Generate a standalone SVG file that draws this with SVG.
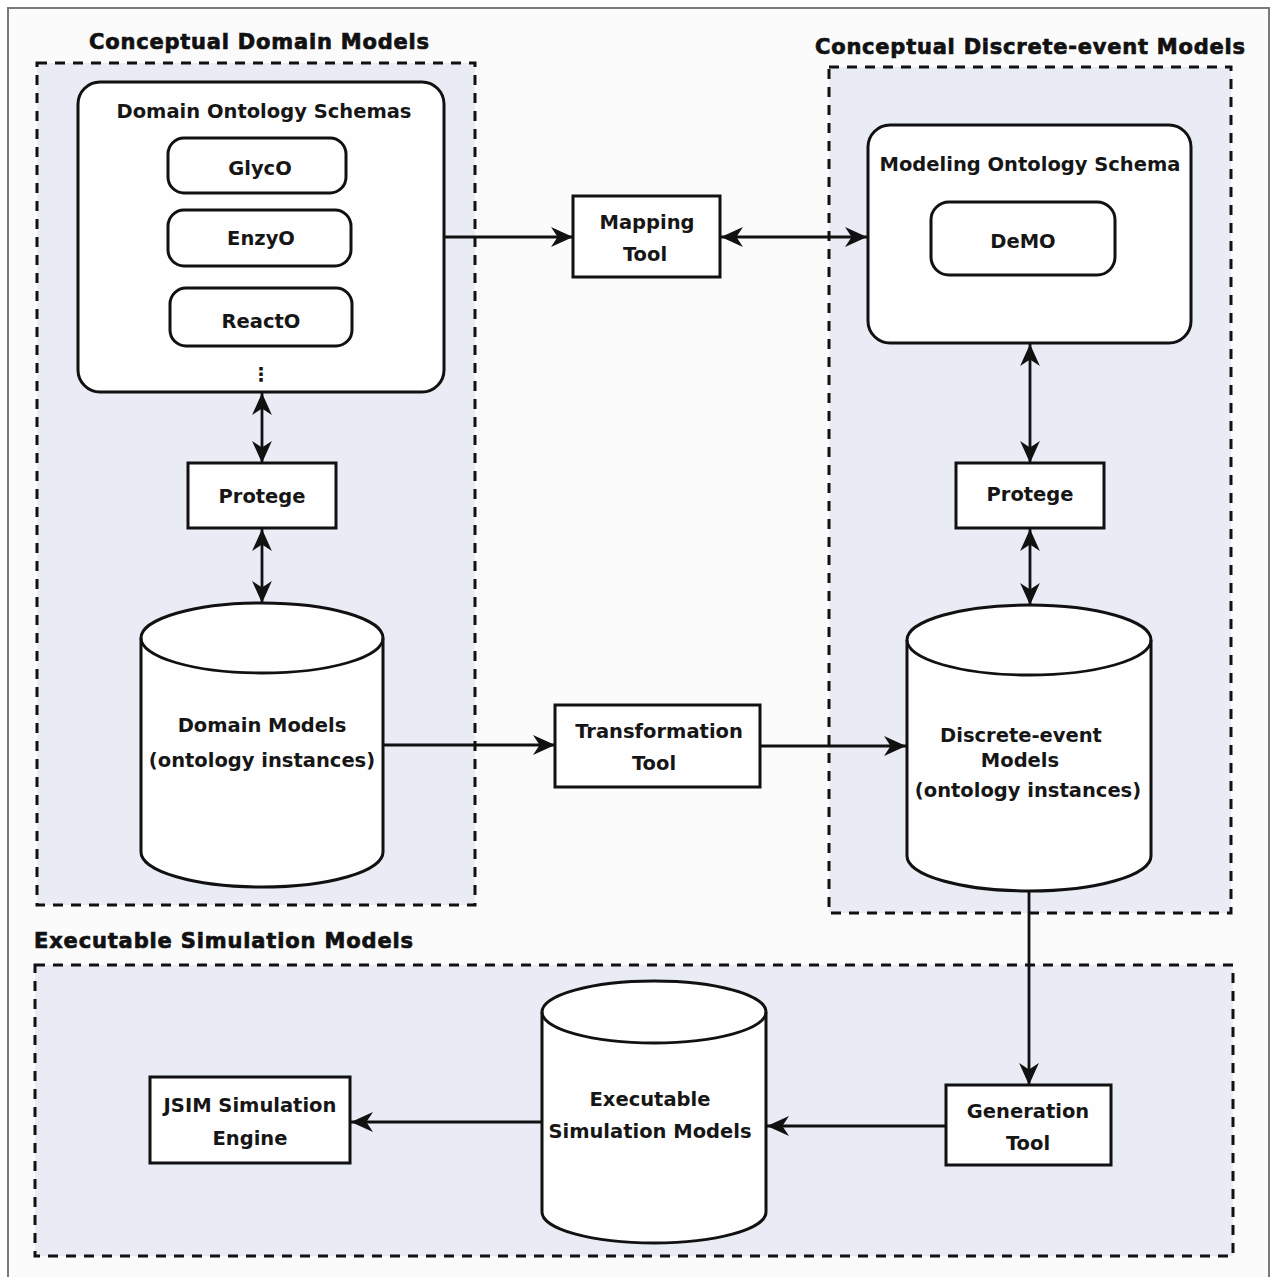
<svg xmlns="http://www.w3.org/2000/svg" width="1275" height="1277" viewBox="0 0 1275 1277">
  <defs>
    <style>
      .frame { fill: #fbfbfc; stroke: #7a7a7a; stroke-width: 2; }
      .group { fill: #e9ebf5; stroke: #111; stroke-width: 3; stroke-dasharray: 10 8; }
      .box { fill: #fefefe; stroke: #111; stroke-width: 3; }
      .edge { fill: none; stroke: #111; stroke-width: 2.8; }
      .title { font-family: "DejaVu Sans", Verdana, sans-serif; font-weight: bold; font-size: 21px; fill: #111; stroke: #111; stroke-width: 0.7; }
      .label { font-family: "DejaVu Sans", Verdana, sans-serif; font-weight: bold; font-size: 19.5px; fill: #161616; text-anchor: middle; }
    </style>
    <marker id="arrow" viewBox="0 0 20 20" refX="20" refY="10" markerWidth="22" markerHeight="22" markerUnits="userSpaceOnUse" orient="auto-start-reverse">
      <path d="M0,1 L20,10 L0,19 L6,10 Z" fill="#111"/>
    </marker>
  </defs>

  <!-- page -->
  <rect x="0" y="0" width="1275" height="1277" fill="#ffffff"/>
  <rect class="frame" x="8" y="8" width="1261" height="1290"/>

  <!-- group containers -->
  <g id="group-domain">
    <rect class="group" x="37" y="63" width="438" height="842"/>
    <text class="title" x="89" y="49" textLength="340">Conceptual Domain Models</text>
  </g>
  <g id="group-discrete">
    <rect class="group" x="829" y="67" width="402" height="846"/>
    <text class="title" x="815" y="54" textLength="430">Conceptual Discrete-event Models</text>
  </g>
  <g id="group-executable">
    <rect class="group" x="35" y="965" width="1198" height="291"/>
    <text class="title" x="34" y="948" textLength="379">Executable Simulation Models</text>
  </g>

  <!-- connectors -->
  <g id="connectors">
    <line class="edge" x1="444" y1="237" x2="573" y2="237" marker-end="url(#arrow)"/>
    <line class="edge" x1="721" y1="237" x2="867" y2="237" marker-start="url(#arrow)" marker-end="url(#arrow)"/>
    <line class="edge" x1="262" y1="393" x2="262" y2="463" marker-start="url(#arrow)" marker-end="url(#arrow)"/>
    <line class="edge" x1="262" y1="529" x2="262" y2="603" marker-start="url(#arrow)" marker-end="url(#arrow)"/>
    <line class="edge" x1="1030" y1="344" x2="1030" y2="463" marker-start="url(#arrow)" marker-end="url(#arrow)"/>
    <line class="edge" x1="1030" y1="529" x2="1030" y2="605" marker-start="url(#arrow)" marker-end="url(#arrow)"/>
    <line class="edge" x1="384" y1="745" x2="555" y2="745" marker-end="url(#arrow)"/>
    <line class="edge" x1="760" y1="746" x2="906" y2="746" marker-end="url(#arrow)"/>
    <line class="edge" x1="1029" y1="891" x2="1029" y2="1085" marker-end="url(#arrow)"/>
    <line class="edge" x1="946" y1="1126" x2="767" y2="1126" marker-end="url(#arrow)"/>
    <line class="edge" x1="542" y1="1122" x2="351" y2="1122" marker-end="url(#arrow)"/>
  </g>

  <!-- left column -->
  <g id="domain-ontology-schemas">
    <rect class="box" x="78" y="82" width="366" height="310" rx="22"/>
    <text class="label" x="264" y="118">Domain Ontology Schemas</text>
    <text class="label" x="261" y="381" font-size="32">⋮</text>
  </g>
  <g id="glyco">
    <rect class="box" x="168" y="138" width="178" height="55" rx="16"/>
    <text class="label" x="260" y="175">GlycO</text>
  </g>
  <g id="enzyo">
    <rect class="box" x="168" y="210" width="183" height="56" rx="16"/>
    <text class="label" x="261" y="245">EnzyO</text>
  </g>
  <g id="reacto">
    <rect class="box" x="170" y="288" width="182" height="58" rx="16"/>
    <text class="label" x="261" y="328">ReactO</text>
  </g>
  <g id="protege-left">
    <rect class="box" x="188" y="463" width="148" height="65"/>
    <text class="label" x="262" y="503">Protege</text>
  </g>
  <g id="domain-models">
    <path class="box" d="M141,638 A121,35 0 0 1 383,638 V852 A121,35 0 0 1 141,852 Z"/>
    <path class="edge" d="M141,638 A121,35 0 0 0 383,638" stroke-width="3"/>
    <text class="label" x="262" y="732">Domain Models</text>
    <text class="label" x="262" y="767">(ontology instances)</text>
  </g>

  <!-- middle tools -->
  <g id="mapping-tool">
    <rect class="box" x="573" y="196" width="147" height="81"/>
    <text class="label" x="647" y="229">Mapping</text>
    <text class="label" x="645" y="261">Tool</text>
  </g>
  <g id="transformation-tool">
    <rect class="box" x="555" y="705" width="205" height="82"/>
    <text class="label" x="659" y="738">Transformation</text>
    <text class="label" x="654" y="770">Tool</text>
  </g>

  <!-- right column -->
  <g id="modeling-ontology-schema">
    <rect class="box" x="868" y="125" width="323" height="218" rx="22"/>
    <text class="label" x="1030" y="171">Modeling Ontology Schema</text>
  </g>
  <g id="demo">
    <rect class="box" x="931" y="202" width="184" height="73" rx="18"/>
    <text class="label" x="1023" y="248">DeMO</text>
  </g>
  <g id="protege-right">
    <rect class="box" x="956" y="463" width="148" height="65"/>
    <text class="label" x="1030" y="501">Protege</text>
  </g>
  <g id="discrete-event-models">
    <path class="box" d="M907,640 A122,35 0 0 1 1151,640 V856 A122,35 0 0 1 907,856 Z"/>
    <path class="edge" d="M907,640 A122,35 0 0 0 1151,640" stroke-width="3"/>
    <text class="label" x="1021" y="742">Discrete-event</text>
    <text class="label" x="1020" y="767">Models</text>
    <text class="label" x="1028" y="797">(ontology instances)</text>
  </g>

  <!-- bottom row -->
  <g id="generation-tool">
    <rect class="box" x="946" y="1085" width="165" height="80"/>
    <text class="label" x="1028" y="1118">Generation</text>
    <text class="label" x="1028" y="1150">Tool</text>
  </g>
  <g id="executable-simulation-models">
    <path class="box" d="M542,1012 A112,31 0 0 1 766,1012 V1212 A112,31 0 0 1 542,1212 Z"/>
    <path class="edge" d="M542,1012 A112,31 0 0 0 766,1012" stroke-width="3"/>
    <text class="label" x="650" y="1106">Executable</text>
    <text class="label" x="650" y="1138">Simulation Models</text>
  </g>
  <g id="jsim-engine">
    <rect class="box" x="150" y="1077" width="200" height="86"/>
    <text class="label" x="250" y="1112">JSIM Simulation</text>
    <text class="label" x="250" y="1145">Engine</text>
  </g>
</svg>
